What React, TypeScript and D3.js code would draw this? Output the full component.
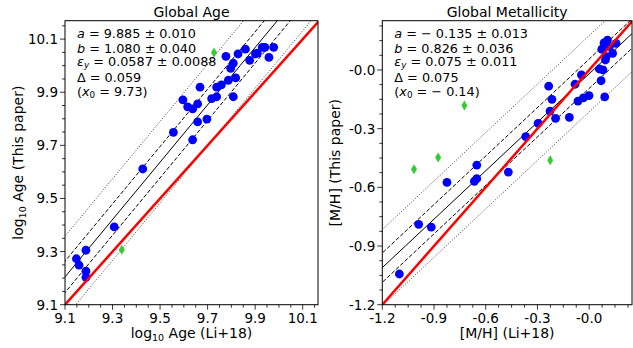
import React from "react";
import * as d3 from "d3";

// ---- Data: Global Age panel ----
const ageX = [9.427, 9.556, 9.637, 9.596, 9.616, 9.637, 9.658, 9.658, 9.668, 9.697, 9.717, 9.738, 9.738, 9.758, 9.777, 9.787, 9.808, 9.797, 9.808, 9.818, 9.828, 9.859, 9.877, 9.901, 9.909, 9.930, 9.941, 9.978, 9.958, 9.307, 9.188, 9.148, 9.159, 9.188, 9.188];
const ageY = [9.611, 9.749, 9.721, 9.871, 9.845, 9.837, 9.856, 9.788, 9.919, 9.799, 9.876, 9.883, 9.919, 9.928, 10.035, 9.945, 9.883, 9.990, 10.009, 9.954, 10.044, 10.062, 10.020, 10.044, 10.047, 10.069, 10.069, 10.069, 10.031, 9.393, 9.305, 9.273, 9.249, 9.226, 9.203];
const ageOutX = [9.727, 9.339];
const ageOutY = [10.050, 9.307];
const ageTicks = [9.1, 9.3, 9.5, 9.7, 9.9, 10.1];
const ageTickLabels = ["9.1", "9.3", "9.5", "9.7", "9.9", "10.1"];

// ---- Data: Global Metallicity panel ----
const metX = [-1.101, -0.989, -0.916, -0.825, -0.666, -0.652, -0.652, -0.469, -0.368, -0.296, -0.227, -0.216, -0.235, -0.195, -0.115, -0.082, -0.045, -0.065, -0.034, -0.001, 0.069, 0.059, 0.080, 0.090, 0.086, 0.106, 0.118, 0.156, 0.073, 0.098, 0.136, 0.094];
const metY = [-1.043, -0.789, -0.803, -0.575, -0.569, -0.556, -0.486, -0.522, -0.341, -0.273, -0.210, -0.150, -0.083, -0.247, -0.242, -0.073, -0.025, -0.159, -0.143, -0.131, -0.055, 0.005, 0.001, -0.138, 0.138, 0.153, 0.120, 0.136, 0.106, 0.068, 0.085, 0.051];
const metOutX = [-1.016, -0.876, -0.724, -0.226];
const metOutY = [-0.508, -0.447, -0.181, -0.461];
const metTicks = [-1.2, -0.9, -0.6, -0.3, 0.0];
const metTickLabels = ["-1.2", "-0.9", "-0.6", "-0.3", "-0.0"];

// ---- Fit parameters ----
const ageFit = { a: 9.885, b: 1.08, x0: 9.73, delta: 0.059 };
const metFit = { a: -0.135, b: 0.826, x0: -0.14, delta: 0.075 };

const FONT = "DejaVu Sans, sans-serif";
const annotOffsets = [0, 14.3, 28.2, 44.0, 58.0];

type PanelProps = {
  id: string;
  left: number;
  right: number;
  top: number;
  bottom: number;
  xDomain: [number, number];
  yDomain: [number, number];
  ticks: number[];
  tickLabels: string[];
  minorStep: number;
  xs: number[];
  ys: number[];
  oxs: number[];
  oys: number[];
  fit: { a: number; b: number; x0: number; delta: number };
  title: string;
  annot: React.ReactNode[];
  xLabel: React.ReactNode;
  yLabel: React.ReactNode;
};

function Panel(p: PanelProps) {
  const x = d3.scaleLinear().domain(p.xDomain).range([p.left, p.right]);
  const y = d3.scaleLinear().domain(p.yDomain).range([p.bottom, p.top]);
  const xEnds = [p.xDomain[0] - 0.2, p.xDomain[1] + 0.2];
  const fitPath = (off: number) =>
    d3.line<number>().x((v) => x(v)).y((v) => y(p.fit.a + p.fit.b * (v - p.fit.x0) + off))(xEnds) || "";
  const idPath = d3.line<number>().x((v) => x(v)).y((v) => y(v))(xEnds) || "";

  const minors: number[] = [];
  for (let v = p.ticks[0] - p.minorStep * 4; v <= p.xDomain[1] + 1e-9; v += p.minorStep) {
    if (v >= p.xDomain[0] - 1e-9) minors.push(v);
  }
  const minorsY: number[] = [];
  for (let v = p.ticks[0] - p.minorStep * 4; v <= p.yDomain[1] + 1e-9; v += p.minorStep) {
    if (v >= p.yDomain[0] - 1e-9) minorsY.push(v);
  }
  const isMajor = (v: number) => p.ticks.some((t) => Math.abs(t - v) < 1e-6);
  const cx = (p.left + p.right) / 2;
  const cy = (p.top + p.bottom) / 2;
  const diamond = (px: number, py: number) =>
    `M${px},${py - 5}L${px + 3},${py}L${px},${py + 5}L${px - 3},${py}Z`;

  return (
    <g>
      <defs>
        <clipPath id={p.id}>
          <rect x={p.left} y={p.top} width={p.right - p.left} height={p.bottom - p.top} />
        </clipPath>
      </defs>
      <g clipPath={`url(#${p.id})`}>
        <path d={fitPath(2.6 * p.fit.delta)} stroke="#000" strokeWidth={0.8} strokeDasharray="1,1.8" fill="none" />
        <path d={fitPath(-2.6 * p.fit.delta)} stroke="#000" strokeWidth={0.8} strokeDasharray="1,1.8" fill="none" />
        <path d={fitPath(p.fit.delta)} stroke="#000" strokeWidth={1} strokeDasharray="4,2" fill="none" />
        <path d={fitPath(-p.fit.delta)} stroke="#000" strokeWidth={1} strokeDasharray="4,2" fill="none" />
        <path d={fitPath(0)} stroke="#000" strokeWidth={1} fill="none" />
        {p.xs.map((v, i) => (
          <circle key={i} cx={x(v)} cy={y(p.ys[i])} r={4.4} fill="#0000ff" />
        ))}
        {p.oxs.map((v, i) => (
          <path key={i} d={diamond(x(v), y(p.oys[i]))} fill="#33cc33" />
        ))}
        <path d={idPath} stroke="#ff0000" strokeWidth={2.5} fill="none" />
      </g>
      <rect x={p.left} y={p.top} width={p.right - p.left} height={p.bottom - p.top} fill="none" stroke="#000" strokeWidth={1} />
      {minors.map((v, i) => (
        <line key={"xm" + i} x1={x(v)} x2={x(v)} y1={p.bottom} y2={p.bottom + (isMajor(v) ? 5 : 3)} stroke="#000" strokeWidth={0.8} />
      ))}
      {minorsY.map((v, i) => (
        <line key={"ym" + i} x1={p.left} x2={p.left - (isMajor(v) ? 5 : 3)} y1={y(v)} y2={y(v)} stroke="#000" strokeWidth={0.8} />
      ))}
      {p.ticks.map((v, i) => (
        <text key={"xl" + i} x={x(v)} y={p.bottom + 18} textAnchor="middle" fontSize={13.5} fontFamily={FONT}>
          {p.tickLabels[i]}
        </text>
      ))}
      {p.ticks.map((v, i) => (
        <text key={"yl" + i} x={p.left - 7} y={y(v) + 5} textAnchor="end" fontSize={13.5} fontFamily={FONT}>
          {p.tickLabels[i]}
        </text>
      ))}
      <text x={cx} y={p.top - 4} textAnchor="middle" fontSize={14} fontFamily={FONT}>
        {p.title}
      </text>
      <text x={cx} y={p.bottom + 33.5} textAnchor="middle" fontSize={14} fontFamily={FONT}>
        {p.xLabel}
      </text>
      <text transform={`translate(${p.left - 42.5},${cy}) rotate(-90)`} textAnchor="middle" fontSize={14} fontFamily={FONT}>
        {p.yLabel}
      </text>
      {p.annot.map((a, i) => (
        <text key={"an" + i} x={p.left + 12} y={p.top + 17.5 + annotOffsets[i]} fontSize={12.8} fontFamily={FONT}>
          {a}
        </text>
      ))}
    </g>
  );
}

const It = ({ children }: { children: React.ReactNode }) => <tspan fontStyle="italic">{children}</tspan>;
const Sub = ({ children }: { children: React.ReactNode }) => (
  <tspan fontSize={8.8} dy={2}>{children}</tspan>
);
const Up = ({ children }: { children: React.ReactNode }) => <tspan dy={-2}>{children}</tspan>;

export default function App() {
  const ageAnnot = [
    <><It>a</It>{" = 9.885 ± 0.010"}</>,
    <><It>b</It>{" = 1.080 ± 0.040"}</>,
    <><It>ε</It><Sub><tspan fontStyle="italic">y</tspan></Sub><Up>{" = 0.0587 ± 0.0088"}</Up></>,
    <>{"Δ = 0.059"}</>,
    <>{"("}<It>x</It><Sub>0</Sub><Up>{" = 9.73)"}</Up></>,
  ];
  const metAnnot = [
    <><It>a</It>{" =  − 0.135 ± 0.013"}</>,
    <><It>b</It>{" = 0.826 ± 0.036"}</>,
    <><It>ε</It><Sub><tspan fontStyle="italic">y</tspan></Sub><Up>{" = 0.075 ± 0.011"}</Up></>,
    <>{"Δ = 0.075"}</>,
    <>{"("}<It>x</It><Sub>0</Sub><Up>{" =  − 0.14)"}</Up></>,
  ];
  const logLabel = (rest: string) => (
    <>
      {"log"}
      <tspan fontSize={9.5} dy={3}>10</tspan>
      <tspan dy={-3}>{rest}</tspan>
    </>
  );
  return (
    <svg width={633} height={348} style={{ position: "absolute", left: 0, top: 0, background: "#fff" }}>
      <rect x={0} y={0} width={633} height={348} fill="#fff" />
      <Panel
        id="clipAge"
        left={65}
        right={318}
        top={20.7}
        bottom={304.7}
        xDomain={[9.1, 10.1644]}
        yDomain={[9.1, 10.1693]}
        ticks={ageTicks}
        tickLabels={ageTickLabels}
        minorStep={0.05}
        xs={ageX}
        ys={ageY}
        oxs={ageOutX}
        oys={ageOutY}
        fit={ageFit}
        title="Global Age"
        annot={ageAnnot}
        xLabel={logLabel(" Age (Li+18)")}
        yLabel={logLabel(" Age (This paper)")}
      />
      <Panel
        id="clipMet"
        left={382.3}
        right={632}
        top={20.7}
        bottom={304.7}
        xDomain={[-1.2, 0.2484]}
        yDomain={[-1.2, 0.2519]}
        ticks={metTicks}
        tickLabels={metTickLabels}
        minorStep={0.075}
        xs={metX}
        ys={metY}
        oxs={metOutX}
        oys={metOutY}
        fit={metFit}
        title="Global Metallicity"
        annot={metAnnot}
        xLabel={"[M/H] (Li+18)"}
        yLabel={"[M/H] (This paper)"}
      />
    </svg>
  );
}
